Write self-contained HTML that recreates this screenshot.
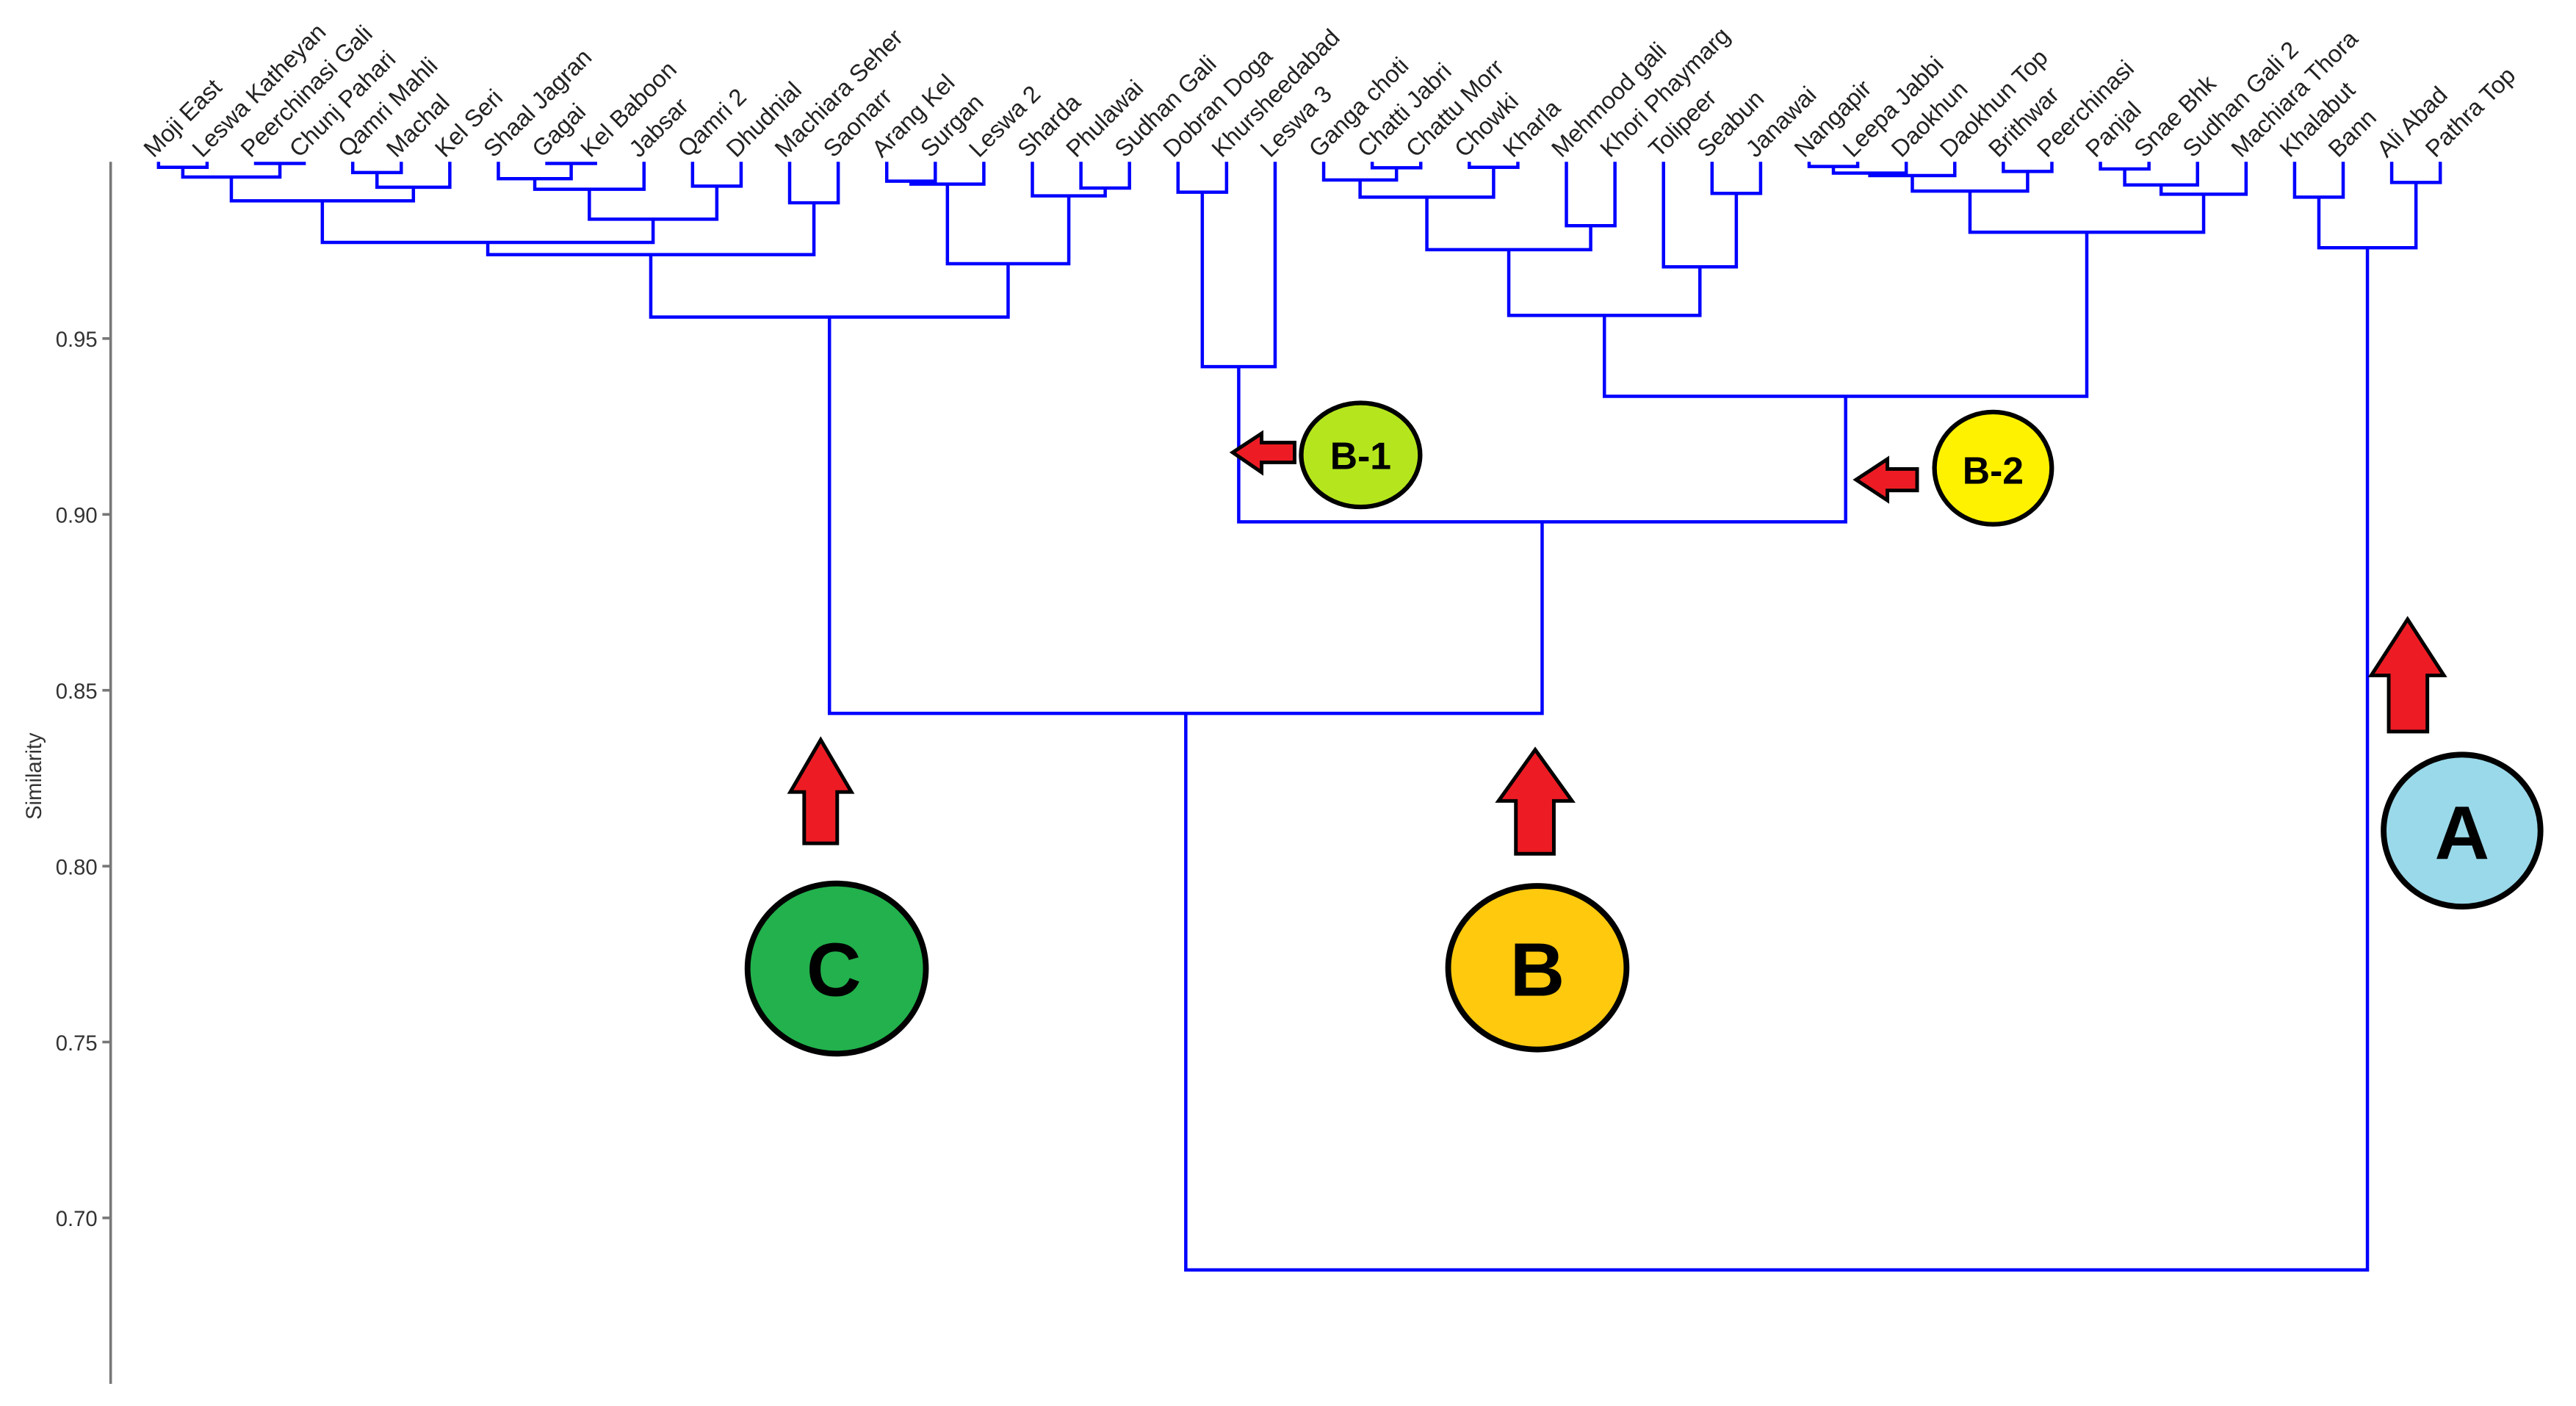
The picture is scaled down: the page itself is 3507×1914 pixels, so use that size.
<!DOCTYPE html>
<html><head><meta charset="utf-8"><style>
html,body{margin:0;padding:0;background:#fff;}
svg{display:block;}
</style></head><body>
<svg width="3507" height="1914" viewBox="0 0 1560 851.4" xmlns="http://www.w3.org/2000/svg">
<rect width="1560" height="851.4" fill="#fff"/>
<g stroke="#777" stroke-width="1.6" fill="none">
<line x1="67" y1="98" x2="67" y2="838"/>
<line x1="62" y1="205" x2="67" y2="205"/>
<line x1="62" y1="311.5" x2="67" y2="311.5"/>
<line x1="62" y1="418" x2="67" y2="418"/>
<line x1="62" y1="524.5" x2="67" y2="524.5"/>
<line x1="62" y1="631" x2="67" y2="631"/>
<line x1="62" y1="737.5" x2="67" y2="737.5"/>
</g>
<g font-family="Liberation Sans, sans-serif" font-size="13" fill="#333" text-anchor="end">
<text x="59" y="210">0.95</text>
<text x="59" y="316.5">0.90</text>
<text x="59" y="423">0.85</text>
<text x="59" y="529.5">0.80</text>
<text x="59" y="636">0.75</text>
<text x="59" y="742.5">0.70</text>
</g>
<text transform="translate(25,470) rotate(-90)" font-family="Liberation Sans, sans-serif" font-size="13" fill="#333" text-anchor="middle">Similarity</text>

<g stroke="#0000ff" stroke-width="2" fill="none">
<path d="M96 98V101.3H125.4V98"/>
<path d="M154.8 98V99H184.2V98"/>
<path d="M110.7 101.3V107.2H169.5V99"/>
<path d="M213.6 98V104.5H243V98"/>
<path d="M228.3 104.5V113.4H272.4V98"/>
<path d="M140.1 107.2V121.6H250.35V113.4"/>
<path d="M331.2 98V99H360.6V98"/>
<path d="M301.8 98V108.2H345.9V99"/>
<path d="M323.85 108.2V114.6H390V98"/>
<path d="M419.4 98V112.7H448.8V98"/>
<path d="M356.9 114.6V132.7H434.1V112.7"/>
<path d="M195.2 121.6V146.8H395.5V132.7"/>
<path d="M478.2 98V122.8H507.6V98"/>
<path d="M295.4 146.8V154.2H492.9V122.8"/>
<path d="M537 98V109.7H566.4V98"/>
<path d="M551.7 109.7V111.5H595.8V98"/>
<path d="M654.6 98V113.9H684V98"/>
<path d="M625.2 98V118.6H669.3V113.9"/>
<path d="M573.75 111.5V159.7H647.25V118.6"/>
<path d="M394.1 154.2V192H610.5V159.7"/>
<path d="M713.4 98V116.4H742.8V98"/>
<path d="M728.1 116.4V222H772.2V98"/>
<path d="M831 98V101.6H860.4V98"/>
<path d="M801.6 98V109H845.7V101.6"/>
<path d="M889.8 98V101.3H919.2V98"/>
<path d="M823.65 109V119.4H904.5V101.3"/>
<path d="M948.6 98V136.7H978V98"/>
<path d="M864.1 119.4V151.2H963.3V136.7"/>
<path d="M1036.8 98V117.1H1066.2V98"/>
<path d="M1007.4 98V161.6H1051.5V117.1"/>
<path d="M913.7 151.2V191H1029.45V161.6"/>
<path d="M1095.6 98V100.8H1125V98"/>
<path d="M1110.3 100.8V104.8H1154.4V98"/>
<path d="M1132.35 104.8V106.3H1183.8V98"/>
<path d="M1213.2 98V103.8H1242.6V98"/>
<path d="M1158.1 106.3V115.7H1227.9V103.8"/>
<path d="M1272 98V102.3H1301.4V98"/>
<path d="M1286.7 102.3V112H1330.8V98"/>
<path d="M1308.75 112V117.6H1360.2V98"/>
<path d="M1193 115.7V140.6H1334.5V117.6"/>
<path d="M971.6 191V240H1263.75V140.6"/>
<path d="M750.15 222V316H1117.7V240"/>
<path d="M502.3 192V432H933.9V316"/>
<path d="M1389.6 98V119.4H1419V98"/>
<path d="M1448.4 98V110.5H1477.8V98"/>
<path d="M1404.3 119.4V150H1463.1V110.5"/>
<path d="M718.1 432V769H1433.7V150"/>
</g>

<g font-family="Liberation Sans, sans-serif" font-size="14.5" fill="#222">
<text transform="translate(93,96) rotate(-45)">Moji East</text>
<text transform="translate(122.4,96) rotate(-45)">Leswa Katheyan</text>
<text transform="translate(151.8,96) rotate(-45)">Peerchinasi Gali</text>
<text transform="translate(181.2,96) rotate(-45)">Chunj Pahari</text>
<text transform="translate(210.6,96) rotate(-45)">Qamri Mahli</text>
<text transform="translate(240,96) rotate(-45)">Machal</text>
<text transform="translate(269.4,96) rotate(-45)">Kel Seri</text>
<text transform="translate(298.8,96) rotate(-45)">Shaal Jagran</text>
<text transform="translate(328.2,96) rotate(-45)">Gagai</text>
<text transform="translate(357.6,96) rotate(-45)">Kel Baboon</text>
<text transform="translate(387,96) rotate(-45)">Jabsar</text>
<text transform="translate(416.4,96) rotate(-45)">Qamri 2</text>
<text transform="translate(445.8,96) rotate(-45)">Dhudnial</text>
<text transform="translate(475.2,96) rotate(-45)">Machiara Seher</text>
<text transform="translate(504.6,96) rotate(-45)">Saonarr</text>
<text transform="translate(534,96) rotate(-45)">Arang Kel</text>
<text transform="translate(563.4,96) rotate(-45)">Surgan</text>
<text transform="translate(592.8,96) rotate(-45)">Leswa 2</text>
<text transform="translate(622.2,96) rotate(-45)">Sharda</text>
<text transform="translate(651.6,96) rotate(-45)">Phulawai</text>
<text transform="translate(681,96) rotate(-45)">Sudhan Gali</text>
<text transform="translate(710.4,96) rotate(-45)">Dobran Doga</text>
<text transform="translate(739.8,96) rotate(-45)">Khursheedabad</text>
<text transform="translate(769.2,96) rotate(-45)">Leswa 3</text>
<text transform="translate(798.6,96) rotate(-45)">Ganga choti</text>
<text transform="translate(828,96) rotate(-45)">Chatti Jabri</text>
<text transform="translate(857.4,96) rotate(-45)">Chattu Morr</text>
<text transform="translate(886.8,96) rotate(-45)">Chowki</text>
<text transform="translate(916.2,96) rotate(-45)">Kharla</text>
<text transform="translate(945.6,96) rotate(-45)">Mehmood gali</text>
<text transform="translate(975,96) rotate(-45)">Khori Phaymarg</text>
<text transform="translate(1004.4,96) rotate(-45)">Tolipeer</text>
<text transform="translate(1033.8,96) rotate(-45)">Seabun</text>
<text transform="translate(1063.2,96) rotate(-45)">Janawai</text>
<text transform="translate(1092.6,96) rotate(-45)">Nangapir</text>
<text transform="translate(1122,96) rotate(-45)">Leepa Jabbi</text>
<text transform="translate(1151.4,96) rotate(-45)">Daokhun</text>
<text transform="translate(1180.8,96) rotate(-45)">Daokhun Top</text>
<text transform="translate(1210.2,96) rotate(-45)">Brithwar</text>
<text transform="translate(1239.6,96) rotate(-45)">Peerchinasi</text>
<text transform="translate(1269,96) rotate(-45)">Panjal</text>
<text transform="translate(1298.4,96) rotate(-45)">Snae Bhk</text>
<text transform="translate(1327.8,96) rotate(-45)">Sudhan Gali 2</text>
<text transform="translate(1357.2,96) rotate(-45)">Machiara Thora</text>
<text transform="translate(1386.6,96) rotate(-45)">Khalabut</text>
<text transform="translate(1416,96) rotate(-45)">Bann</text>
<text transform="translate(1445.4,96) rotate(-45)">Ali Abad</text>
<text transform="translate(1474.8,96) rotate(-45)">Pathra Top</text>
</g>

<g fill="#ed1c24" stroke="#000" stroke-width="2.2" stroke-linejoin="miter">
<polygon points="746.5,274 764,262.5 764,268 784,268 784,280 764,280 764,286"/>
<polygon points="1124,290.5 1143,278 1143,284 1161,284 1161,297 1143,297 1143,303"/>
<polygon points="497,448 515.6,479.6 507,479.6 507,510.7 487,510.7 487,479.6 478.6,479.6"/>
<polygon points="929.7,454 952,485 941,485 941,517 918,517 918,485 907.5,485"/>
<polygon points="1458,375 1480,409 1470,409 1470,443 1446.6,443 1446.6,409 1436,409"/>
</g>

<g stroke="#000" stroke-width="3.5">
<ellipse cx="824" cy="275.5" rx="36" ry="31.5" fill="#b5e61d" stroke-width="2.8"/>
<ellipse cx="1207" cy="283.5" rx="35.5" ry="34" fill="#fff200" stroke-width="2.8"/>
<ellipse cx="506.7" cy="586.5" rx="54" ry="51.5" fill="#22b14c"/>
<ellipse cx="931" cy="586" rx="54" ry="49.5" fill="#ffc90e"/>
<ellipse cx="1491" cy="503" rx="47.5" ry="46" fill="#99d9ea"/>
</g>
<g font-family="Liberation Sans, sans-serif" font-weight="bold" fill="#000" text-anchor="middle">
<text x="824" y="284" font-size="23" font-weight="600">B-1</text>
<text x="1207" y="293" font-size="23" font-weight="600">B-2</text>
<text x="505" y="603" font-size="46">C</text>
<text x="931" y="603" font-size="46">B</text>
<text x="1491" y="520" font-size="46">A</text>
</g>
</svg>
</body></html>
